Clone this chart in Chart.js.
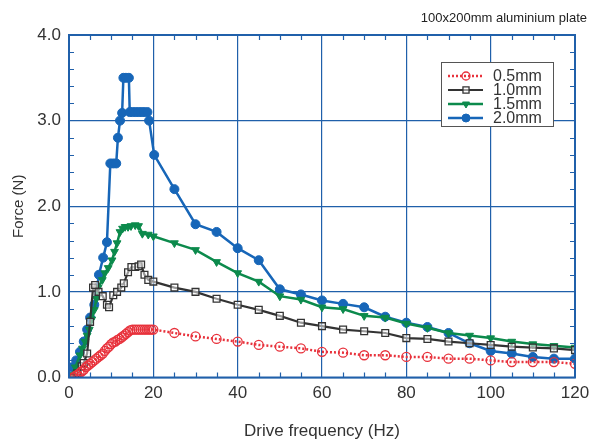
<!DOCTYPE html>
<html>
<head>
<meta charset="utf-8">
<script src="https://cdn.jsdelivr.net/npm/chart.js@4"></script>
<style>
  html,body{margin:0;padding:0;background:#fff;}
  #wrap{width:591px;height:440px;}
</style>
</head>
<body>
<div id="wrap"><canvas id="forceChart" width="591" height="440"></canvas></div>
<script>
// plate test: force vs drive frequency for 4 amplitudes
const chartNote = '100x200mm aluminium plate';
const seriesLabels = ['0.5mm','1.0mm','1.5mm','2.0mm'];
const xTicks = [0,20,40,60,80,100,120];
const yTicks = [0.0,1.0,2.0,3.0,4.0];

const freq05 = [1,1.5,2,2.5,3,3.5,4,4.5,5,5.5,6,6.5,7,7.5,8,8.5,9,9.5,10,10.5,11,11.5,12,12.5,13,13.5,14,14.5,15,15.5,16,16.5,17,17.5,18,18.5,19,19.5,20,25,30,35,40,45,50,55,60,65,70,75,80,85,90,95,100,105,110,115,120];
const force05 = [0.0,0.02,0.03,0.05,0.07,0.09,0.12,0.14,0.16,0.18,0.2,0.22,0.24,0.26,0.28,0.31,0.34,0.36,0.39,0.41,0.42,0.44,0.45,0.47,0.49,0.51,0.53,0.55,0.56,0.56,0.56,0.56,0.56,0.56,0.56,0.56,0.56,0.56,0.56,0.52,0.48,0.45,0.42,0.38,0.36,0.34,0.30,0.29,0.26,0.26,0.24,0.24,0.22,0.22,0.20,0.18,0.18,0.18,0.16];

const freq10 = [1,2,3,3.5,4.3,5,5.7,6.2,7,8,9,9.5,10.5,11.4,12.4,13,14,14.8,15.7,16.5,17.1,17.9,18.8,20,25,30,35,40,45,50,55,60,65,70,75,80,85,90,95,100,105,110,115,120];
const force10 = [0.0,0.05,0.13,0.17,0.28,0.65,1.05,1.08,1.0,0.95,0.85,0.82,0.96,1.0,1.05,1.1,1.23,1.29,1.29,1.30,1.32,1.2,1.14,1.12,1.05,1.00,0.92,0.85,0.79,0.72,0.64,0.60,0.56,0.54,0.52,0.46,0.45,0.42,0.40,0.38,0.36,0.35,0.34,0.32];

const freq15 = [0.7,1.5,2.6,3.2,3.8,4.3,4.8,5.4,6,6.5,6.9,7.9,8.5,9.3,10.2,10.8,11.4,12.1,12.7,13.3,14,14.7,15.7,16.5,17.4,18.8,20,25,30,35,40,45,50,55,60,65,70,75,80,85,90,95,100,105,110,115,120];
const force15 = [0.03,0.12,0.26,0.34,0.42,0.49,0.56,0.68,0.79,0.92,1.05,1.14,1.22,1.28,1.37,1.47,1.57,1.70,1.74,1.76,1.76,1.77,1.78,1.77,1.68,1.67,1.65,1.57,1.49,1.35,1.22,1.12,0.95,0.91,0.82,0.80,0.72,0.70,0.63,0.58,0.52,0.49,0.46,0.42,0.39,0.37,0.35];

const freq20 = [0.7,1.7,2.6,3.5,4.3,5,6,7.1,8.1,9,9.8,10.5,11.2,11.6,12.1,12.6,12.9,13.5,14.2,14.4,15,15.7,16.4,17.1,17.8,18.6,19,20.2,25,30,35,40,45,50,55,60,65,70,75,80,85,90,95,100,105,110,115,120];
const force20 = [0.12,0.2,0.3,0.42,0.56,0.7,0.85,1.2,1.4,1.58,2.5,2.5,2.5,2.8,3.0,3.09,3.5,3.5,3.5,3.1,3.1,3.1,3.1,3.1,3.1,3.1,3.0,2.6,2.2,1.79,1.70,1.51,1.37,1.03,0.97,0.90,0.86,0.82,0.71,0.64,0.59,0.52,0.40,0.31,0.28,0.24,0.22,0.22];

const seriesColors = ['#e8323c','#333333','#0c8a4c','#1766b8'];
const blueAxis = '#2060aa';
const fontFam = '"Liberation Sans", Arial, sans-serif';

function pts(xs, ys){ return xs.map((x,i)=>({x:x,y:ys[i]})); }

// minor ticks, frame, legend box and note
const decorPlugin = {
  id:'decor',
  afterDatasetsDraw(chart){
    const ctx = chart.ctx, a = chart.chartArea;
    const xs = chart.scales.x, ys = chart.scales.y;
    ctx.save();
    ctx.strokeStyle = blueAxis;
    ctx.lineWidth = 1.2;
    ctx.beginPath();
    for(let v=5; v<120; v+=5){
      if(v%20===0) continue;
      const px = Math.round(xs.getPixelForValue(v))+0.5;
      ctx.moveTo(px,a.bottom); ctx.lineTo(px,a.bottom-5);
      ctx.moveTo(px,a.top); ctx.lineTo(px,a.top+5);
    }
    for(let k=1; k<20; k++){
      if(k%5===0) continue;
      const py = Math.round(ys.getPixelForValue(k*0.2))+0.5;
      ctx.moveTo(a.left,py); ctx.lineTo(a.left+5,py);
      ctx.moveTo(a.right,py); ctx.lineTo(a.right-5,py);
    }
    ctx.stroke();
    ctx.lineWidth = 2;
    ctx.strokeRect(a.left, a.top, a.right-a.left, a.bottom-a.top);

    // legend
    const lx = 441, ly = 62, lw = 112, lh = 64;
    ctx.fillStyle = '#fff';
    ctx.fillRect(lx,ly,lw,lh);
    ctx.strokeStyle = '#555';
    ctx.lineWidth = 1;
    ctx.strokeRect(lx+0.5,ly+0.5,lw,lh);
    chart.data.datasets.forEach((ds,i)=>{
      const y = ly + 14 + i*14;
      ctx.strokeStyle = ds.borderColor;
      ctx.lineWidth = ds.borderWidth;
      ctx.setLineDash(ds.borderDash || []);
      ctx.beginPath(); ctx.moveTo(lx+7,y); ctx.lineTo(lx+42,y); ctx.stroke();
      ctx.setLineDash([]);
      ctx.fillStyle = ds.pointBackgroundColor;
      ctx.strokeStyle = ds.borderColor;
      ctx.lineWidth = ds.pointBorderWidth||1;
      Chart.helpers.drawPoint(ctx,{
        pointStyle:ds.pointStyle, rotation:ds.pointRotation||0, radius:ds.pointRadius-0.5,
        borderWidth:ds.pointBorderWidth||1
      }, lx+25, y);
      ctx.fillStyle = '#333';
      ctx.font = '16px ' + fontFam;
      ctx.textBaseline = 'middle';
      ctx.textAlign = 'left';
      ctx.fillText(ds.label, lx+52, y+1);
    });

    ctx.fillStyle = '#222';
    ctx.font = '13px ' + fontFam;
    ctx.textAlign = 'right';
    ctx.textBaseline = 'middle';
    ctx.fillText(chartNote, 587, 18);
    ctx.restore();
  }
};

const ctx = document.getElementById('forceChart').getContext('2d');
new Chart(ctx,{
  type:'line',
  data:{
    datasets:[
      {label:seriesLabels[0], data:pts(freq05,force05), borderColor:seriesColors[0], borderWidth:2.5, borderDash:[2,2],
       pointStyle:'circle', pointRadius:4.5, pointBorderWidth:1.3, pointBackgroundColor:'rgba(255,255,255,0)', pointBorderColor:seriesColors[0]},
      {label:seriesLabels[1], data:pts(freq10,force10), borderColor:seriesColors[1], borderWidth:2.2,
       pointStyle:'rect', pointRadius:4.8, pointBorderWidth:1.3, pointBackgroundColor:'rgba(255,255,255,0.5)', pointBorderColor:seriesColors[1]},
      {label:seriesLabels[2], data:pts(freq15,force15), borderColor:seriesColors[2], borderWidth:2.5,
       pointStyle:'triangle', pointRotation:180, pointRadius:4.5, pointBorderWidth:1, pointBackgroundColor:seriesColors[2], pointBorderColor:seriesColors[2]},
      {label:seriesLabels[3], data:pts(freq20,force20), borderColor:seriesColors[3], borderWidth:2.5,
       pointStyle:'circle', pointRadius:4.5, pointBorderWidth:1, pointBackgroundColor:seriesColors[3], pointBorderColor:seriesColors[3]}
    ]
  },
  options:{
    responsive:false,
    animation:false,
    events:[],
    layout:{padding:{left:0,right:16,top:35,bottom:0}},
    plugins:{legend:{display:false}, tooltip:{enabled:false}},
    scales:{
      x:{
        type:'linear', min:0, max:120,
        afterBuildTicks:s=>{ s.ticks = xTicks.map(v=>({value:v})); },
        afterFit:s=>{ s.height = 62.5; s.paddingRight = 0; s.paddingLeft = 0; },
        ticks:{color:'#333', font:{size:17, family:fontFam}, padding:6, maxRotation:0},
        grid:{color:blueAxis, lineWidth:1.2, drawTicks:false},
        border:{display:false},
        title:{display:true, text:'Drive frequency (Hz)', color:'#333', font:{size:17, family:fontFam, lineHeight:1}, padding:{top:0,bottom:0}}
      },
      y:{
        type:'linear', min:0, max:4,
        afterBuildTicks:s=>{ s.ticks = yTicks.map(v=>({value:v})); },
        afterFit:s=>{ s.width = 69; },
        ticks:{color:'#333', font:{size:17, family:fontFam}, padding:8, callback:v=>v.toFixed(1)},
        grid:{color:blueAxis, lineWidth:1.2, drawTicks:false},
        border:{display:false},
        title:{display:true, text:'Force (N)', color:'#333', font:{size:15, family:fontFam}, padding:{top:10,bottom:0}}
      }
    }
  },
  plugins:[decorPlugin]
});
</script>
</body>
</html>
